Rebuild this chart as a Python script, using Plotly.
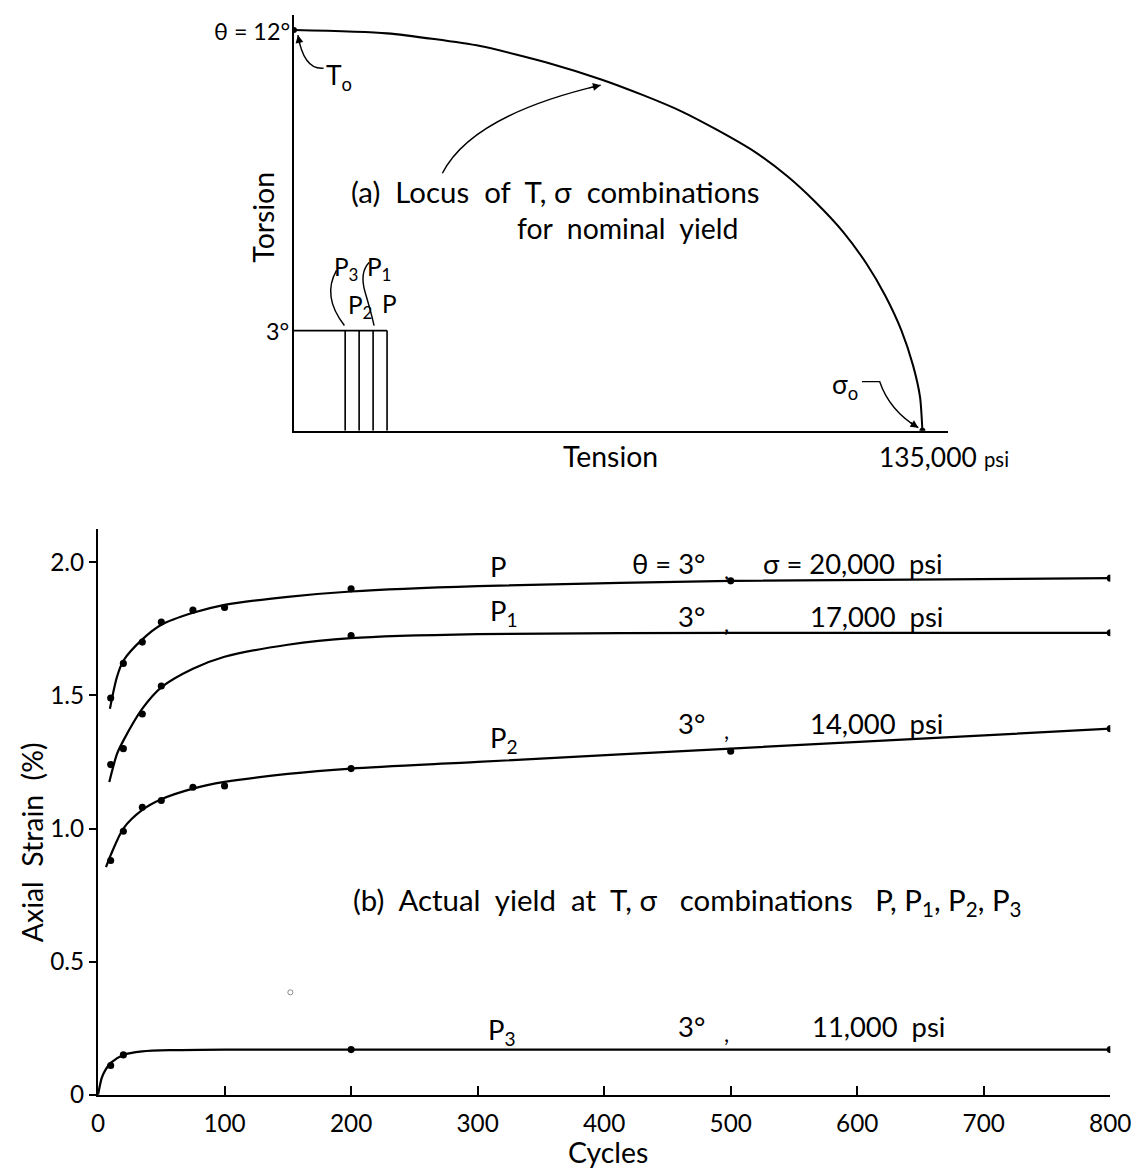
import plotly.graph_objects as go

W, H = 1143, 1168              # target picture size
K = 1159 / 1143                # the page is shown scaled by 1/K; build the figure at K x size
FW, FH = 1159, 1184
FONT = "Lato"

# ---------------- (a) yield locus data ----------------
locus_tension = [0, 20000, 40000, 55000, 66000, 75000, 83000, 91000, 99000, 106000,
                 112000, 118000, 123000, 127000, 130500, 133000, 134500, 135000]
locus_torsion = [12, 11.9, 11.52, 11.0, 10.52, 10.05, 9.58, 9.0, 8.35, 7.62,
                 6.85, 5.95, 5.0, 4.05, 3.0, 1.95, 1.0, 0]
test_stress = [11000, 14000, 17000, 20000]          # P3, P2, P1, P
test_torsion = 3
endpoints_tension = [0, 135000]
endpoints_torsion = [12, 0]

# ---------------- (b) axial strain data ----------------
cycles_P = [10, 20, 35, 50, 75, 100, 200, 500, 800]
strain_P = [1.49, 1.62, 1.70, 1.775, 1.82, 1.83, 1.90, 1.93, 1.94]
cycles_P1 = [10, 20, 35, 50, 200, 800]
strain_P1 = [1.24, 1.30, 1.43, 1.535, 1.725, 1.735]
cycles_P2 = [10, 20, 35, 50, 75, 100, 200, 500, 800]
strain_P2 = [0.88, 0.99, 1.08, 1.105, 1.155, 1.16, 1.225, 1.29, 1.375]
cycles_P3 = [10, 20, 200, 800]
strain_P3 = [0.11, 0.15, 0.17, 0.17]

# hand-drawn fitted curves
fit_P_c = [9.4, 15, 20, 35, 50, 75, 100, 150, 200, 300, 500, 800]
fit_P_s = [1.45, 1.57, 1.63, 1.71, 1.765, 1.81, 1.84, 1.87, 1.89, 1.91, 1.93, 1.94]
fit_P1_c = [8.9, 15, 20, 35, 50, 75, 100, 150, 200, 300, 500, 800]
fit_P1_s = [1.175, 1.28, 1.33, 1.45, 1.53, 1.60, 1.645, 1.69, 1.715, 1.73, 1.735, 1.735]
fit_P2_c = [6.3, 10, 20, 35, 50, 75, 100, 150, 200, 300, 500, 800]
fit_P2_s = [0.855, 0.90, 1.0, 1.07, 1.11, 1.15, 1.175, 1.205, 1.225, 1.25, 1.30, 1.375]
fit_P3_c = [0, 3, 6, 10, 20, 35, 60, 100, 200, 500, 800]
fit_P3_s = [0, 0.065, 0.095, 0.12, 0.15, 0.163, 0.168, 0.17, 0.17, 0.17, 0.17]

stray_c = [152]
stray_s = [0.385]

y_ticks = [0, 0.5, 1.0, 1.5, 2.0]
y_ticktext = ["0", "0.5", "1.0", "1.5", "2.0"]
x_ticks = [0, 100, 200, 300, 400, 500, 600, 700, 800]


def fx(px):
    return px / W


def fy(py):
    return 1 - py / H


def sz(v):
    return round(v * K, 2)


fig = go.Figure()

fig.add_trace(go.Scatter(x=locus_tension, y=locus_torsion, mode="lines",
                         line=dict(color="black", width=sz(2), shape="spline", smoothing=0.6),
                         xaxis="x", yaxis="y", hoverinfo="skip"))
fig.add_trace(go.Scatter(x=endpoints_tension, y=endpoints_torsion, mode="markers",
                         marker=dict(color="black", size=sz(6)),
                         xaxis="x", yaxis="y", hoverinfo="skip"))
fig.add_trace(go.Scatter(x=[0, max(test_stress)], y=[test_torsion, test_torsion], mode="lines",
                         line=dict(color="black", width=sz(1.6)), xaxis="x", yaxis="y",
                         hoverinfo="skip"))
for s in test_stress:
    fig.add_trace(go.Scatter(x=[s, s], y=[0, test_torsion], mode="lines",
                             line=dict(color="black", width=sz(1.6)), xaxis="x", yaxis="y",
                             hoverinfo="skip"))

for c, s in [(fit_P_c, fit_P_s), (fit_P1_c, fit_P1_s), (fit_P2_c, fit_P2_s), (fit_P3_c, fit_P3_s)]:
    fig.add_trace(go.Scatter(x=c, y=s, mode="lines",
                             line=dict(color="black", width=sz(2.2), shape="spline", smoothing=0.8),
                             xaxis="x2", yaxis="y2", hoverinfo="skip"))
for c, s in [(cycles_P, strain_P), (cycles_P1, strain_P1), (cycles_P2, strain_P2), (cycles_P3, strain_P3)]:
    fig.add_trace(go.Scatter(x=c, y=s, mode="markers", marker=dict(color="black", size=sz(7)),
                             xaxis="x2", yaxis="y2", hoverinfo="skip"))
fig.add_trace(go.Scatter(x=stray_c, y=stray_s, mode="markers",
                         marker=dict(color="white", size=sz(5), line=dict(color="#888", width=1)),
                         xaxis="x2", yaxis="y2", hoverinfo="skip"))

ann = []


def txt(x, y, t, size=24, xanchor="center", yanchor="middle", angle=0):
    ann.append(dict(x=fx(x), y=fy(y), xref="paper", yref="paper", text=t, showarrow=False,
                    xanchor=xanchor, yanchor=yanchor, textangle=angle,
                    font=dict(family=FONT, size=sz(size), color="black")))


def arrowhead(x, y, dx, dy):
    ann.append(dict(x=fx(x), y=fy(y), xref="paper", yref="paper", text="", showarrow=True,
                    ax=sz(dx), ay=sz(dy), arrowhead=2, arrowsize=1.1, arrowwidth=sz(1.4),
                    arrowcolor="black", standoff=0))


# top panel text
txt(288, 31, "θ = 12°", 23, xanchor="right")
txt(336, 77, "T<sub>o</sub>", 26)
txt(259, 217, "Torsion", 28, angle=-90)
txt(273, 330, "3°", 23)
txt(343, 268, "P<sub>3</sub>", 24)
txt(376, 268, "P<sub>1</sub>", 24)
txt(357, 306, "P<sub>2</sub>", 24)
txt(387, 303, "P", 24)
txt(554, 191, "(a)  Locus  of  T, σ  combinations", 29)
txt(627, 228, "for  nominal  yield", 28)
txt(610, 455, "Tension", 28)
txt(982, 456, "135,000", 26, xanchor="right")
txt(985, 458, "psi", 20, xanchor="left")
txt(847, 385, "σ<sub>o</sub>", 26)

# bottom panel text
txt(486, 566, "P", 27, xanchor="left")
txt(707, 563, "θ = 3°", 27, xanchor="right")
txt(727, 570, ",", 22)
txt(948, 563, "σ = 20,000  psi", 27, xanchor="right")

txt(486, 611, "P<sub>1</sub>", 27, xanchor="left")
txt(707, 615, "3°", 27, xanchor="right")
txt(727, 622, ",", 22)
txt(948, 615, "17,000  psi", 27, xanchor="right")

txt(486, 738, "P<sub>2</sub>", 27, xanchor="left")
txt(707, 722, "3°", 27, xanchor="right")
txt(727, 729, ",", 22)
txt(948, 722, "14,000  psi", 27, xanchor="right")

txt(484, 1030, "P<sub>3</sub>", 27, xanchor="left")
txt(707, 1025, "3°", 27, xanchor="right")
txt(727, 1032, ",", 22)
txt(950, 1025, "11,000  psi", 27, xanchor="right")

txt(688, 900, "(b)  Actual  yield  at  T, σ   combinations   P, P<sub>1</sub>, P<sub>2</sub>, P<sub>3</sub>", 29)
txt(26, 841, "Axial  Strain  (%)", 28, angle=-90)
txt(607, 1150, "Cycles", 28)

arrowhead(600, 85, -13, 3)
arrowhead(294, 35, 2, 10)
arrowhead(921, 427, -9, -6)


def path(pts_cmd):
    out = []
    for item in pts_cmd:
        if isinstance(item, str):
            out.append(item)
        else:
            out.append(f"{fx(item[0]):.5f},{fy(item[1]):.5f}")
    return " ".join(out)


shapes = []
for p in [
    ["M", (440, 173), "Q", (470, 115), (600, 85)],
    ["M", (320, 68), "Q", (300, 70), (294, 35)],
    ["M", (864, 381), "L", (882, 381), "Q", (892, 410), (921, 427)],
    ["M", (333, 270), "Q", (318, 296), (341, 325)],
    ["M", (366, 262), "Q", (356, 272), (362, 292), "Q", (368, 312), (371, 325)],
]:
    shapes.append(dict(type="path", path=path(p), xref="paper", yref="paper",
                       line=dict(color="black", width=sz(1.4))))

fig.update_layout(
    width=FW, height=FH, margin=dict(l=0, r=0, t=0, b=0),
    paper_bgcolor="white", plot_bgcolor="white", showlegend=False,
    font=dict(family=FONT, size=sz(22), color="black"),
    xaxis=dict(domain=[fx(290), fx(951)], range=[0, 140500], showgrid=False, zeroline=False,
               showline=True, linecolor="black", linewidth=sz(2), showticklabels=False, ticks="",
               anchor="y"),
    yaxis=dict(domain=[fy(430), fy(15)], range=[0, 12.45], showgrid=False, zeroline=False,
               showline=True, linecolor="black", linewidth=sz(2), showticklabels=False, ticks="",
               anchor="x"),
    xaxis2=dict(domain=[fx(92), fx(1115)], range=[0, 800], showgrid=False, zeroline=False,
                showline=True, linecolor="black", linewidth=sz(2), ticks="inside", ticklen=9,
                tickwidth=1.5, tickcolor="black", tickvals=x_ticks, ticklabelstandoff=6,
                ticklabeloverflow="allow",
                tickfont=dict(family=FONT, size=sz(24)), anchor="y2"),
    yaxis2=dict(domain=[fy(1093), fy(528)], range=[0, 2.125], showgrid=False, zeroline=False,
                showline=True, linecolor="black", linewidth=sz(2), ticks="outside", ticklen=7,
                tickwidth=1.5, tickcolor="black", tickvals=y_ticks, ticktext=y_ticktext,
                tickfont=dict(family=FONT, size=sz(24)), anchor="x2"),
    annotations=ann, shapes=shapes,
)

fig.write_html("out.html", config={"displayModeBar": False},
               post_script="document.body.style.margin='0';document.body.style.overflow='hidden';")
